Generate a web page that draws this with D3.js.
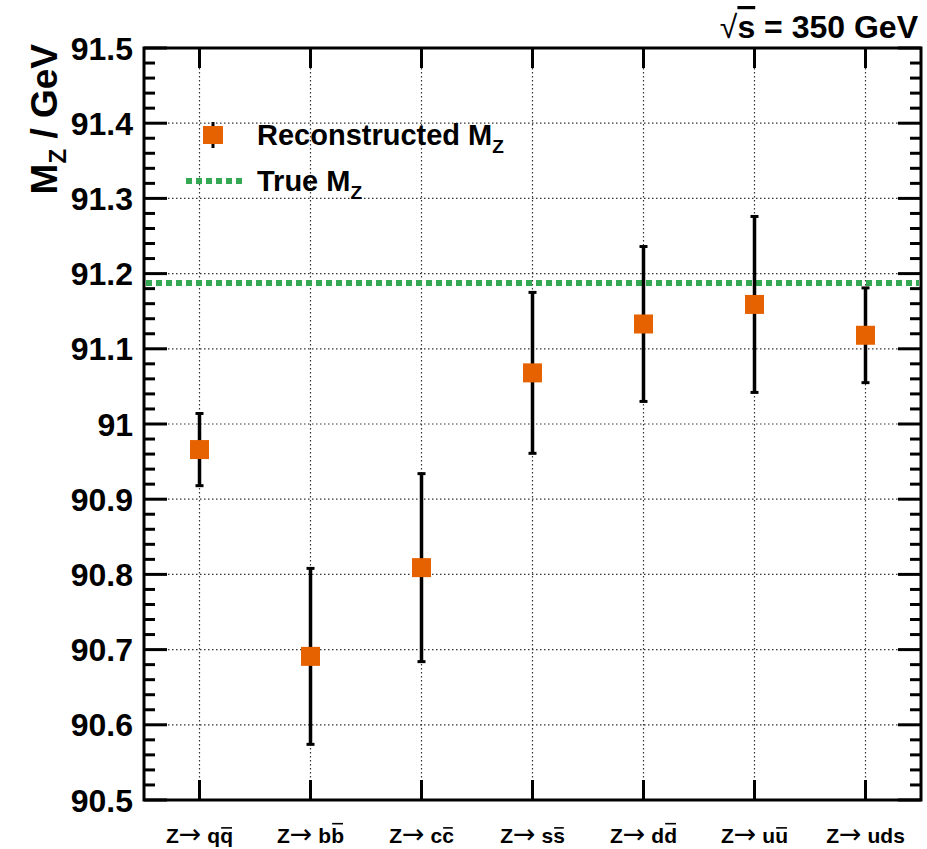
<!DOCTYPE html>
<html>
<head>
<meta charset="utf-8">
<script src="https://cdn.jsdelivr.net/npm/d3@7"></script>
<style>
  html, body { margin: 0; padding: 0; background: #ffffff; }
  svg { display: block; }
  text { font-family: "Liberation Sans", Arial, Helvetica, sans-serif; font-weight: bold; fill: #000; }
</style>
</head>
<body>
<svg id="chart" width="927" height="849"></svg>
<script>
// Decay channels: quark and (optional) anti-quark shown with an overline
const products = ["q", "b", "c", "s", "d", "u", "uds"];
const antiProducts = ["q", "b", "c", "s", "d", "u", ""];
// Reconstructed Z mass per channel and its uncertainty (GeV)
const massValues = [90.966, 90.691, 90.809, 91.068, 91.133, 91.159, 91.118];
const massErrors = [0.048, 0.117, 0.125, 0.107, 0.103, 0.117, 0.063];
// Reference Z mass (GeV)
const trueMZ = 91.1876;
// Axis range and labelled ticks
const yDomain = [90.5, 91.5];
const yTickValues = [90.5, 90.6, 90.7, 90.8, 90.9, 91.0, 91.1, 91.2, 91.3, 91.4, 91.5];
const yTickLabels = ["90.5", "90.6", "90.7", "90.8", "90.9", "91", "91.1", "91.2", "91.3", "91.4", "91.5"];

const svg = d3.select("#chart");
const frame = { left: 144, right: 921, top: 48, bottom: 800 };

const x = d3.scaleBand()
  .domain(d3.range(products.length))
  .range([frame.left, frame.right])
  .padding(0);
const y = d3.scaleLinear().domain(yDomain).range([frame.bottom, frame.top]);
const cx = i => x(i) + x.bandwidth() / 2;

// Minor ticks every 0.02 GeV, major every 0.1 GeV
const minorTicks = d3.range(0, 51).map(k => yDomain[0] + k * 0.02);
const isMajor = d => Math.abs((d - yDomain[0]) * 10 - Math.round((d - yDomain[0]) * 10)) < 1e-6;

// --- grid (dotted) ---
const grid = svg.append("g");
grid.selectAll("line.h").data(yTickValues.slice(1, -1)).join("line")
  .attr("x1", frame.left).attr("x2", frame.right)
  .attr("y1", d => y(d)).attr("y2", d => y(d))
  .attr("stroke", "#333").attr("stroke-width", 1.2).attr("stroke-dasharray", "1.5,2.5");
grid.selectAll("line.v").data(d3.range(products.length)).join("line")
  .attr("x1", d => cx(d)).attr("x2", d => cx(d))
  .attr("y1", frame.top).attr("y2", frame.bottom)
  .attr("stroke", "#333").attr("stroke-width", 1.2).attr("stroke-dasharray", "1.5,2.5");

// --- true mass line ---
svg.append("line")
  .attr("x1", frame.left + 2).attr("x2", frame.right - 2)
  .attr("y1", y(trueMZ)).attr("y2", y(trueMZ))
  .attr("stroke", "#34a853").attr("stroke-width", 6).attr("stroke-dasharray", "6,4");

// --- axis ticks ---
const axes = svg.append("g").attr("stroke", "#000");
[["left", 1], ["right", -1]].forEach(([side, dir]) => {
  const x0 = side === "left" ? frame.left : frame.right;
  axes.selectAll("line.t" + side).data(minorTicks).join("line")
    .attr("x1", x0)
    .attr("x2", d => x0 + dir * (isMajor(d) ? 23 : 11))
    .attr("y1", d => y(d)).attr("y2", d => y(d))
    .attr("stroke-width", 3);
});
axes.selectAll("line.tb").data(d3.range(products.length)).join("line")
  .attr("x1", d => cx(d)).attr("x2", d => cx(d))
  .attr("y1", frame.bottom).attr("y2", frame.bottom - 20).attr("stroke-width", 3);
axes.selectAll("line.tt").data(d3.range(products.length)).join("line")
  .attr("x1", d => cx(d)).attr("x2", d => cx(d))
  .attr("y1", frame.top).attr("y2", frame.top + 20).attr("stroke-width", 3);

// frame
svg.append("rect")
  .attr("x", frame.left).attr("y", frame.top)
  .attr("width", frame.right - frame.left).attr("height", frame.bottom - frame.top)
  .attr("fill", "none").attr("stroke", "#000").attr("stroke-width", 3);

// y tick labels
svg.append("g").selectAll("text").data(yTickValues).join("text")
  .attr("x", 133).attr("y", d => y(d))
  .attr("dy", "0.36em")
  .attr("text-anchor", "end")
  .style("font-size", "32px")
  .text((d, i) => yTickLabels[i]);

// x labels: "Z→ q" followed by the anti-quark with a bar over it
const labelSize = 21;
const xl = svg.append("g").selectAll("text").data(d3.range(products.length)).join("text")
  .attr("x", d => cx(d)).attr("y", 843)
  .attr("text-anchor", "middle")
  .style("font-size", labelSize + "px");
xl.each(function (i) {
  const t = d3.select(this);
  t.append("tspan").text("Z");
  t.append("tspan")
    .style("font-family", "'DejaVu Sans', sans-serif")
    .style("font-weight", "normal")
    .style("font-size", "27px")
    .text("\u2192");
  t.append("tspan").text(" " + products[i]);
  if (antiProducts[i]) {
    t.append("tspan").text(antiProducts[i]);
    const node = this;
    const n = node.getNumberOfChars();
    const s = node.getStartPositionOfChar(n - 1);
    const e = node.getEndPositionOfChar(n - 1);
    const tall = "bdhklt".includes(antiProducts[i]);
    const barY = 843 - labelSize * (tall ? 0.92 : 0.72);
    d3.select(node.parentNode).append("line")
      .attr("x1", s.x + 1).attr("x2", e.x - 1)
      .attr("y1", barY).attr("y2", barY)
      .attr("stroke", "#000").attr("stroke-width", 1.6);
  }
});

// y axis title
const yt = svg.append("text")
  .attr("transform", "translate(57,44) rotate(-90)")
  .attr("text-anchor", "end")
  .style("font-size", "37px");
yt.append("tspan").text("M");
yt.append("tspan").attr("dy", 9).style("font-size", "24px").text("Z");
yt.append("tspan").attr("dy", -9).text(" / GeV");

// energy label
const es = svg.append("text")
  .attr("x", 918).attr("y", 38)
  .attr("text-anchor", "end")
  .style("font-size", "32px");
es.append("tspan").style("font-weight", "normal").text("\u221A");
es.append("tspan").style("text-decoration", "overline").text("s");
es.append("tspan").text(" = 350 GeV");

// --- error bars and markers ---
const pts = svg.append("g");
d3.range(products.length).forEach(i => {
  const xc = cx(i);
  const lo = y(massValues[i] - massErrors[i]);
  const hi = y(massValues[i] + massErrors[i]);
  pts.append("line").attr("x1", xc).attr("x2", xc).attr("y1", lo).attr("y2", hi)
    .attr("stroke", "#000").attr("stroke-width", 3.5);
  [lo, hi].forEach(yy => pts.append("line")
    .attr("x1", xc - 4).attr("x2", xc + 4).attr("y1", yy).attr("y2", yy)
    .attr("stroke", "#000").attr("stroke-width", 3));
  pts.append("rect")
    .attr("x", xc - 9.5).attr("y", y(massValues[i]) - 9.5)
    .attr("width", 19).attr("height", 19)
    .attr("fill", "#e66100");
});

// --- legend ---
const lg = svg.append("g");
lg.append("line").attr("x1", 213).attr("x2", 213).attr("y1", 122).attr("y2", 148)
  .attr("stroke", "#000").attr("stroke-width", 3);
lg.append("rect").attr("x", 203).attr("y", 126).attr("width", 20).attr("height", 18).attr("fill", "#e66100");
lg.append("line").attr("x1", 186).attr("x2", 242).attr("y1", 181).attr("y2", 181)
  .attr("stroke", "#34a853").attr("stroke-width", 6).attr("stroke-dasharray", "6,4");

const l1 = lg.append("text").attr("x", 257).attr("y", 145).style("font-size", "29px");
l1.append("tspan").text("Reconstructed M");
l1.append("tspan").attr("dy", 8).style("font-size", "19px").text("Z");
const l2 = lg.append("text").attr("x", 257).attr("y", 191).style("font-size", "29px");
l2.append("tspan").text("True M");
l2.append("tspan").attr("dy", 8).style("font-size", "19px").text("Z");
</script>
</body>
</html>
